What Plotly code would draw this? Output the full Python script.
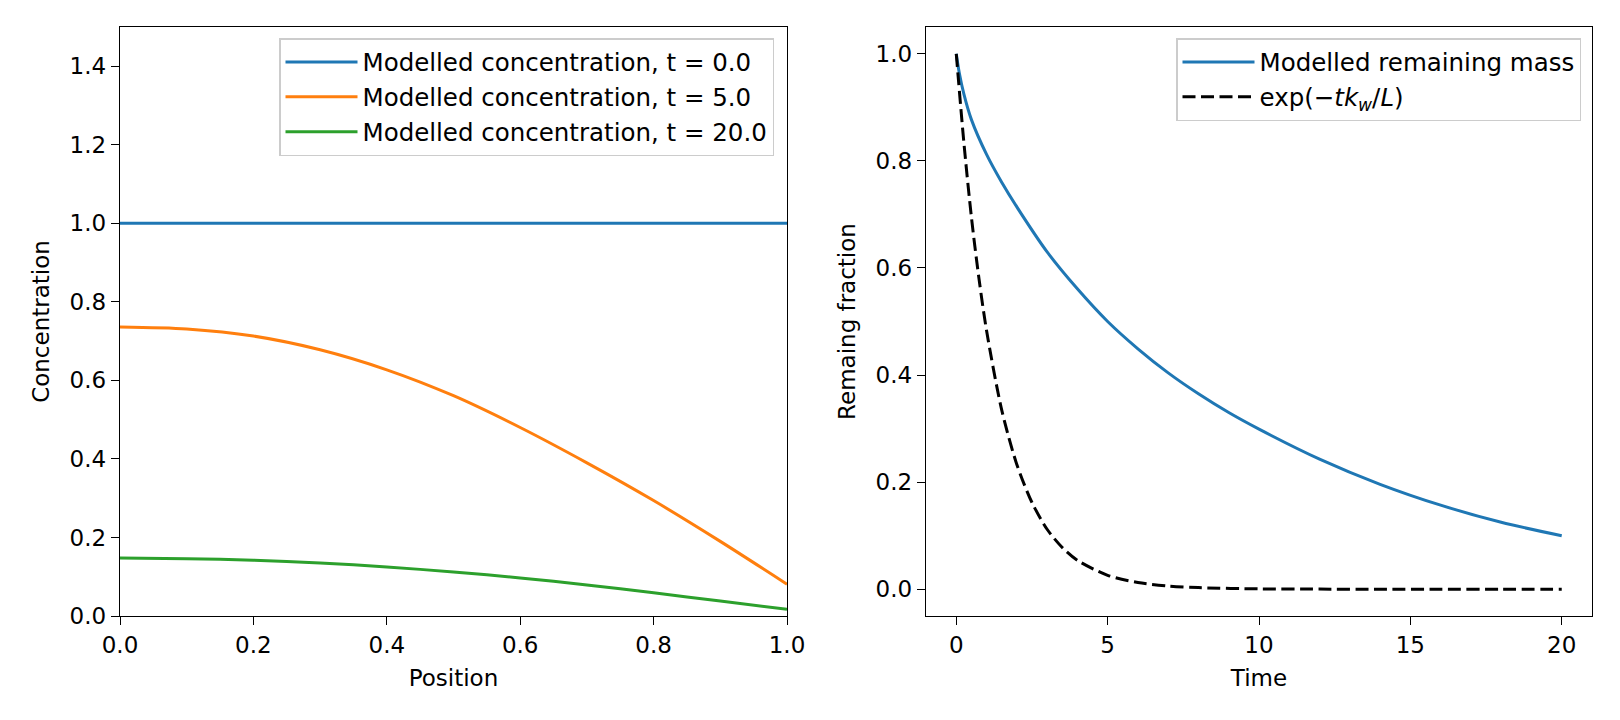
import plotly.graph_objects as go

# ---------------- data ----------------
position = [0.0, 0.1, 0.2, 0.3, 0.4, 0.5, 0.6, 0.7, 0.8, 0.9, 1.0]
conc_t0 = [1.0, 1.0, 1.0, 1.0, 1.0, 1.0, 1.0, 1.0, 1.0, 1.0, 1.0]
conc_t5 = [0.736, 0.731, 0.713, 0.678, 0.627, 0.561, 0.480, 0.390, 0.294, 0.190, 0.081]
conc_t20 = [0.148, 0.146, 0.142, 0.135, 0.125, 0.112, 0.097, 0.079, 0.059, 0.038, 0.017]

time_mass = [0, 0.1, 0.25, 0.5, 1, 1.5, 2, 3, 4, 5, 6, 7, 8, 9, 10, 12, 14, 16, 18, 20]
mass_frac = [1.0, 0.964, 0.925, 0.877, 0.812, 0.760, 0.714, 0.630, 0.561, 0.500, 0.449,
             0.404, 0.365, 0.330, 0.299, 0.243, 0.196, 0.157, 0.125, 0.100]

time_exp = [0, 0.25, 0.5, 0.75, 1, 1.5, 2, 2.5, 3, 3.5, 4, 5, 6, 7, 8, 10, 12, 14, 16, 18, 20]
exp_frac = [1.0, 0.835, 0.695, 0.58, 0.483, 0.335, 0.233, 0.162, 0.112, 0.078, 0.054,
            0.026, 0.0125, 0.006, 0.003, 0.0007, 0.0002, 0.0, 0.0, 0.0, 0.0]

left_labels = ["Modelled concentration, t = 0.0",
               "Modelled concentration, t = 5.0",
               "Modelled concentration, t = 20.0"]
right_labels = ["Modelled remaining mass",
                "exp(−<i>tk</i><sub><i>w</i></sub>/<i>L</i>)"]

colors = ["#1f77b4", "#ff7f0e", "#2ca02c"]
FONT = "DejaVu Sans"
FS = 23
LFS = 24.5
LW = 3

fig = go.Figure()
for y, name, c in zip([conc_t0, conc_t5, conc_t20], left_labels, colors):
    fig.add_trace(go.Scatter(x=position, y=y, mode="lines", name=name,
                             line=dict(color=c, width=LW, shape="spline", smoothing=0.8),
                             xaxis="x", yaxis="y", legend="legend"))

fig.add_trace(go.Scatter(x=time_mass, y=mass_frac, mode="lines", name=right_labels[0],
                         line=dict(color="#1f77b4", width=LW, shape="spline", smoothing=0.8),
                         xaxis="x2", yaxis="y2", legend="legend2"))
fig.add_trace(go.Scatter(x=time_exp, y=exp_frac, mode="lines", name=right_labels[1],
                         line=dict(color="black", width=LW, shape="spline", smoothing=0.8,
                                   dash="13px,5.5px"),
                         xaxis="x2", yaxis="y2", legend="legend2"))

# the page body has an 8px margin: work in page pixels and shift by OFF
OFF = 8
W, H = 1620 - OFF, 720 - OFF
ML, MR, MT, MB = 120 - OFF, 1620 - 1592, 27 - OFF, 720 - 616
PW = W - ML - MR
PH = H - MT - MB

axis_common = dict(showline=True, linecolor="black", linewidth=1.4, mirror=True,
                   ticks="outside", ticklen=8, tickwidth=1.4, tickcolor="black",
                   showgrid=False, zeroline=False, automargin=True,
                   tickfont=dict(family=FONT, size=FS, color="black"))

legend_common = dict(xanchor="right", yanchor="top",
                     bgcolor="rgba(255,255,255,0.8)", bordercolor="#cccccc", borderwidth=1.5,
                     font=dict(family=FONT, size=LFS, color="black"), itemwidth=72,
                     tracegroupgap=0)

fig.update_layout(
    width=W, height=H,
    margin=dict(l=ML, r=MR, t=MT, b=MB, autoexpand=False),
    paper_bgcolor="white", plot_bgcolor="white",
    font=dict(family=FONT, size=FS, color="black"),
    xaxis=dict(domain=[0, (787 - 120) / PW], range=[0, 1], tickvals=[0, 0.2, 0.4, 0.6, 0.8, 1.0],
               tickformat=".1f", anchor="y",
               title=dict(text="Position", standoff=13, font=dict(family=FONT, size=FS)),
               **axis_common),
    yaxis=dict(domain=[0, 1], range=[0, 1.5], tickvals=[0, 0.2, 0.4, 0.6, 0.8, 1.0, 1.2, 1.4],
               tickformat=".1f", anchor="x",
               title=dict(text="Concentration", standoff=13, font=dict(family=FONT, size=FS)),
               **axis_common),
    xaxis2=dict(domain=[(926 - 120) / PW, 1], range=[-1, 21], tickvals=[0, 5, 10, 15, 20],
                anchor="y2",
                title=dict(text="Time", standoff=13, font=dict(family=FONT, size=FS)),
                **axis_common),
    yaxis2=dict(domain=[0, 1], range=[-0.05, 1.05], tickvals=[0, 0.2, 0.4, 0.6, 0.8, 1.0],
                tickformat=".1f", anchor="x2",
                title=dict(text="Remaing fraction", standoff=13, font=dict(family=FONT, size=FS)),
                **axis_common),
    legend=dict(x=(774 - 120) / PW, y=(616 - 38) / PH, **legend_common),
    legend2=dict(x=(1581 - 120) / PW, y=(616 - 38) / PH, **legend_common),
)

fig.write_html("out.html")
